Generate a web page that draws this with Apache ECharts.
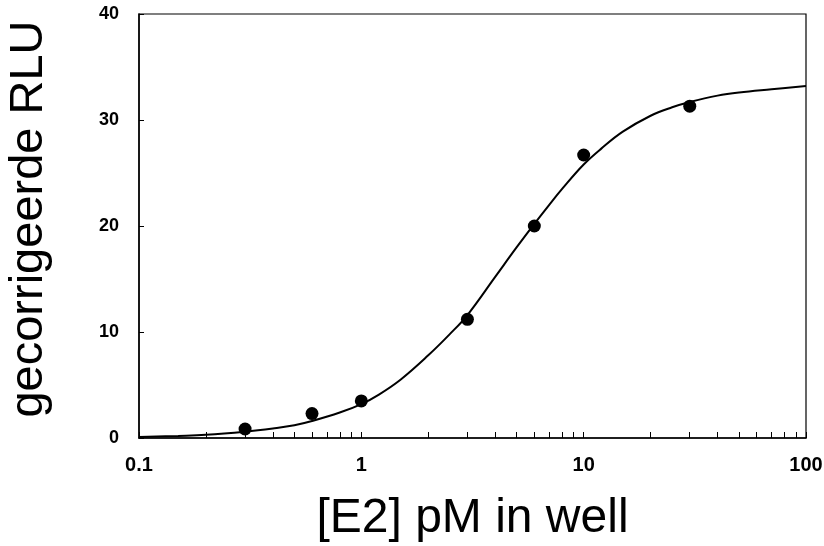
<!DOCTYPE html>
<html>
<head>
<meta charset="utf-8">
<script src="https://cdn.jsdelivr.net/npm/echarts@6/dist/echarts.min.js"></script>
<style>
  html, body { margin: 0; padding: 0; background: #fff; }
  #chart { width: 824px; height: 546px; }
</style>
</head>
<body>
<div id="chart"></div>
<script>
// measured points: [E2] dose (pM) and corrected RLU
const doseX = [0.3, 0.6, 1, 3, 6, 10, 30];
const rluY = [0.85, 2.3, 3.5, 11.2, 20.0, 26.7, 31.3];

// fitted curve
const fitX = [0.1, 0.15, 0.2, 0.3, 0.4, 0.5, 0.6, 0.8, 1, 1.2, 1.5, 2, 2.5, 3, 4, 5, 6, 7, 8, 10, 12, 15, 20, 25, 30, 40, 50, 70, 100];
const fitY = [0.1, 0.2, 0.3, 0.6, 0.9, 1.2, 1.6, 2.4, 3.2, 4.1, 5.5, 7.8, 9.8, 11.6, 15.2, 18.0, 20.2, 22.0, 23.5, 25.8, 27.3, 28.9, 30.4, 31.2, 31.7, 32.3, 32.6, 32.9, 33.2];

// tick marks on the log axis (decades + 2..9)
const xTicks = [0.1, 0.2, 0.3, 0.4, 0.5, 0.6, 0.7, 0.8, 0.9,
  1, 2, 3, 4, 5, 6, 7, 8, 9,
  10, 20, 30, 40, 50, 60, 70, 80, 90, 100];

const chart = echarts.init(document.getElementById('chart'));

const font = 'Liberation Sans, Arial, Helvetica, sans-serif';

chart.setOption({
  animation: false,
  backgroundColor: '#fff',
  grid: {
    left: 139,
    right: 18,
    top: 14,
    bottom: 108,
    outerBoundsMode: 'none',
    containLabel: false,
    show: true,
    borderColor: '#000',
    borderWidth: 1.2
  },
  xAxis: {
    type: 'log',
    logBase: 10,
    min: 0.1,
    max: 100,
    name: '[E2] pM in well',
    nameLocation: 'middle',
    nameGap: 57,
    nameTextStyle: { fontFamily: font, fontSize: 48, color: '#000' },
    axisLine: { lineStyle: { color: '#000', width: 1.5 } },
    axisTick: {
      inside: true,
      length: 6,
      customValues: xTicks,
      lineStyle: { color: '#000', width: 1 }
    },
    axisLabel: {
      margin: 17,
      fontFamily: font,
      fontSize: 20,
      fontWeight: 'bold',
      color: '#000',
      formatter: function (v) { return String(+v.toPrecision(3)); }
    },
    splitLine: { show: false }
  },
  yAxis: {
    type: 'value',
    min: 0,
    max: 40,
    interval: 10,
    name: 'gecorrigeerde RLU',
    nameLocation: 'middle',
    nameGap: 86,
    nameTextStyle: { fontFamily: font, fontSize: 47, color: '#000', padding: [0, 0, 0, 14] },
    axisLine: { show: true, lineStyle: { color: '#000', width: 1.5 } },
    axisTick: { inside: true, length: 5, lineStyle: { color: '#000' } },
    axisLabel: {
      margin: 20,
      fontFamily: font,
      fontSize: 18,
      fontWeight: 'bold',
      color: '#000'
    },
    splitLine: { show: false }
  },
  series: [
    {
      type: 'line',
      data: fitX.map((x, i) => [x, fitY[i]]),
      smooth: 0.4,
      showSymbol: false,
      lineStyle: { color: '#000', width: 2 },
      z: 2
    },
    {
      type: 'scatter',
      data: doseX.map((x, i) => [x, rluY[i]]),
      symbol: 'circle',
      symbolSize: 13,
      itemStyle: { color: '#000', opacity: 1 },
      z: 3
    }
  ]
});

window.addEventListener('resize', function () {
  chart.resize();
});
</script>
</body>
</html>
